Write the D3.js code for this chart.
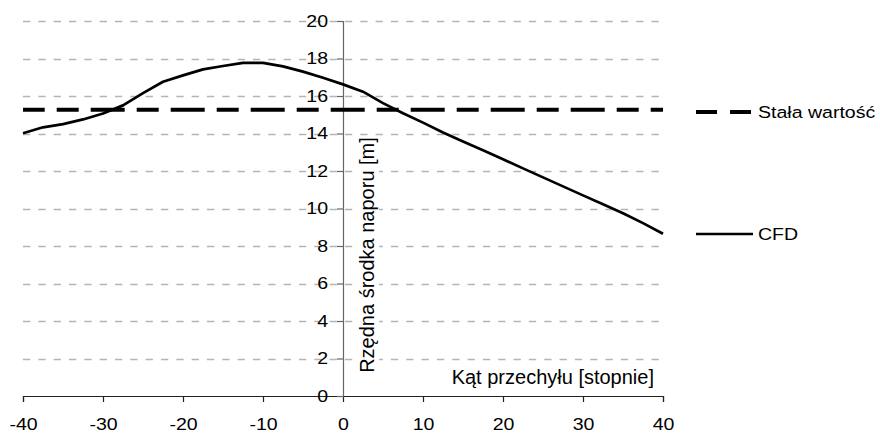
<!DOCTYPE html>
<html>
<head>
<meta charset="utf-8">
<script src="https://cdn.jsdelivr.net/npm/d3@7"></script>
<style>
  body { margin: 0; background: #fff; }
  svg { display: block; font-family: "Liberation Sans", Arial, sans-serif; }
</style>
</head>
<body>
<svg id="chart" width="880" height="434"></svg>
<script>
// Heel angle [deg] and centre-of-pressure height [m]
const angles = [-40, -37.5, -35, -32.5, -30, -27.5, -25, -22.5, -20, -17.5, -15, -12.5, -10,
                -7.5, -5, -2.5, 0, 2.5, 5, 7.5, 10, 12.5, 15, 17.5, 20, 22.5, 25, 27.5, 30,
                32.5, 35, 37.5, 40];
const cfdValues = [14.01, 14.33, 14.5, 14.75, 15.07, 15.5, 16.15, 16.76, 17.1, 17.42, 17.6, 17.77, 17.77,
                   17.58, 17.3, 16.97, 16.62, 16.23, 15.62, 15.08, 14.58, 14.05, 13.57, 13.11, 12.63, 12.14, 11.66,
                   11.18, 10.7, 10.23, 9.75, 9.22, 8.65];
const constantValue = 15.27;
const seriesNames = ["Stała wartość", "CFD"];
const xTicks = [-40, -30, -20, -10, 0, 10, 20, 30, 40];
const yTicks = [0, 2, 4, 6, 8, 10, 12, 14, 16, 18, 20];
const xTitle = "Kąt przechyłu [stopnie]";
const yTitle = "Rzędna środka naporu [m]";

const svg = d3.select("#chart");
const x = d3.scaleLinear().domain([-40, 40]).range([23, 663]);
const y = d3.scaleLinear().domain([0, 20]).range([396, 21]);
const labelStretch = "scale(1.15,1)";
const plainNumber = d => String(d);

// Horizontal dashed grid
svg.append("g")
  .selectAll("line")
  .data(yTicks.filter(d => d > 0))
  .join("line")
  .attr("x1", x(-40)).attr("x2", x(40))
  .attr("y1", d => Math.round(y(d)) + 0.5).attr("y2", d => Math.round(y(d)) + 0.5)
  .attr("stroke", "#b5b5b5")
  .attr("stroke-width", 1.3)
  .attr("stroke-dasharray", "7.3,8.03");

// Vertical axis title, on a white box over the grid
const yTitleText = svg.append("text")
  .attr("transform", `translate(374,255) rotate(-90)`)
  .attr("text-anchor", "middle")
  .attr("font-size", 20)
  .attr("fill", "#000")
  .text(yTitle);
const tb = yTitleText.node().getBBox();
svg.insert("rect", "text")
  .attr("x", 374 + tb.y - 1).attr("y", 255 - tb.x - tb.width - 1)
  .attr("width", tb.height + 2).attr("height", tb.width + 2)
  .attr("fill", "#fff");

// Horizontal axis title
svg.append("text")
  .attr("x", 654).attr("y", 384)
  .attr("text-anchor", "end")
  .attr("font-size", 20)
  .attr("fill", "#000")
  .text(xTitle);

// Axes crossing at the origin
const xAxis = svg.append("g")
  .attr("transform", `translate(0,${y(0)})`)
  .call(d3.axisBottom(x).tickValues(xTicks).tickFormat(plainNumber)
        .tickSize(6).tickSizeOuter(6).tickPadding(16));
xAxis.selectAll("path, line").attr("stroke", "#222").attr("stroke-width", 1.2);

const yAxis = svg.append("g")
  .attr("transform", `translate(${x(0)},0)`)
  .call(d3.axisLeft(y).tickValues(yTicks).tickFormat(plainNumber)
        .tickSize(6).tickSizeOuter(6).tickPadding(7));
yAxis.selectAll("path, line").attr("stroke", "#666").attr("stroke-width", 1.2);

svg.selectAll(".tick text")
  .attr("font-size", 17)
  .attr("font-family", "Liberation Sans, Arial, sans-serif")
  .attr("fill", "#000")
  .attr("transform", labelStretch);
xAxis.attr("font-size", null).attr("font-family", null);
yAxis.attr("font-size", null).attr("font-family", null);

// Constant-value series
const line = d3.line().x(d => x(d[0])).y(d => y(d[1]));
svg.append("path")
  .datum([[angles[0], constantValue], [angles[angles.length - 1], constantValue]])
  .attr("d", line)
  .attr("fill", "none")
  .attr("stroke", "#000")
  .attr("stroke-width", 4)
  .attr("stroke-dasharray", "34,12,22,12")
  .attr("stroke-dashoffset", 12.3);

// CFD series
svg.append("path")
  .datum(angles.map((a, i) => [a, cfdValues[i]]))
  .attr("d", line)
  .attr("fill", "none")
  .attr("stroke", "#000")
  .attr("stroke-width", 2.7)
  .attr("stroke-linejoin", "round");

// Legend
const legend = svg.append("g");
const legendRows = [
  { name: seriesNames[0], y: 112, width: 4, dash: "21,13" },
  { name: seriesNames[1], y: 234, width: 2.7, dash: null }
];
legendRows.forEach(r => {
  legend.append("line")
    .attr("x1", 696).attr("x2", 753)
    .attr("y1", r.y).attr("y2", r.y)
    .attr("stroke", "#000")
    .attr("stroke-width", r.width)
    .attr("stroke-dasharray", r.dash);
  legend.append("text")
    .attr("x", 758 / 1.15).attr("y", r.y + 6)
    .attr("transform", labelStretch)
    .attr("font-size", 17)
    .attr("fill", "#000")
    .text(r.name);
});
</script>
</body>
</html>
